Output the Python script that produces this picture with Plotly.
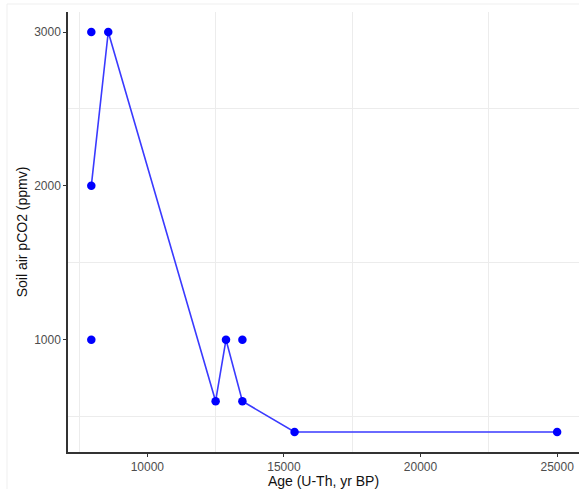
import plotly.graph_objects as go

# All measured points
age_pts = [7950, 7950, 7950, 8570, 12500, 12880, 13480, 13480, 15390, 25000]
pco2_pts = [3000, 2000, 1000, 3000, 600, 1000, 1000, 600, 400, 400]

# Connected series
age_line = [7950, 8570, 12500, 12880, 13480, 15390, 25000]
pco2_line = [2000, 3000, 600, 1000, 600, 400, 400]

x_ticks = [10000, 15000, 20000, 25000]
y_ticks = [1000, 2000, 3000]

W, H = 579, 489
L, R, T, B = 68, 0, 12, 37

fig = go.Figure()
fig.add_trace(go.Scatter(x=age_line, y=pco2_line, mode="lines",
                         line=dict(color="#3a3aff", width=1.6), hoverinfo="skip"))
fig.add_trace(go.Scatter(x=age_pts, y=pco2_pts, mode="markers",
                         marker=dict(color="#0000ff", size=8.5)))

axis_common = dict(
    showgrid=False, zeroline=False, showline=True, linecolor="#333333", linewidth=1.5,
    ticks="outside", ticklen=3, tickcolor="#333333", tickwidth=1,
    tickfont=dict(family="Liberation Sans, Arial", size=12, color="#4d4d4d"),
)

fig.update_xaxes(**axis_common, range=[7097, 25800], tickvals=x_ticks,
                 ticktext=[str(v) for v in x_ticks],
                 minor=dict(tickvals=[7500, 12500, 17500, 22500], showgrid=True,
                            gridcolor="#ececec", gridwidth=1, ticklen=0),
                 title=dict(text="Age (U-Th, yr BP)", standoff=6,
                            font=dict(family="Liberation Sans, Arial", size=14, color="#111111")))
fig.update_yaxes(**axis_common, range=[270, 3130], tickvals=y_ticks,
                 ticktext=[str(v) for v in y_ticks],
                 minor=dict(tickvals=[500, 1500, 2500], showgrid=True,
                            gridcolor="#ececec", gridwidth=1, ticklen=0),
                 title=dict(text="Soil air pCO2 (ppmv)", standoff=3,
                            font=dict(family="Liberation Sans, Arial", size=14, color="#111111")))

# faint image frame
fig.add_shape(type="line", xref="paper", yref="paper", x0=(7 - L) / (W - L - R), x1=1.2,
              y0=1 + (T - 4) / (H - T - B), y1=1 + (T - 4) / (H - T - B),
              line=dict(color="#efefef", width=1))
fig.add_shape(type="line", xref="paper", yref="paper", x0=(7 - L) / (W - L - R), x1=(7 - L) / (W - L - R),
              y0=-0.2, y1=1 + (T - 4) / (H - T - B),
              line=dict(color="#efefef", width=1))

fig.update_layout(width=W, height=H, margin=dict(l=L, r=R, t=T, b=B),
                  plot_bgcolor="white", paper_bgcolor="white", showlegend=False)

fig.write_html("out.html", config={"displayModeBar": False},
               post_script="document.body.style.margin='0';document.body.style.overflow='hidden';")
